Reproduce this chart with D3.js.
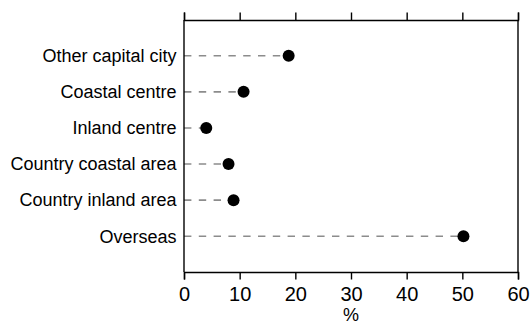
<!DOCTYPE html>
<html>
<head>
<meta charset="utf-8">
<script src="https://cdn.jsdelivr.net/npm/d3@7"></script>
<style>
  html, body { margin: 0; padding: 0; background: #fff; }
  svg { display: block; font-family: "Liberation Sans", Arial, sans-serif; }
</style>
</head>
<body>
<svg id="chart" width="531" height="326"></svg>
<script>
const categories = ["Other capital city", "Coastal centre", "Inland centre", "Country coastal area", "Country inland area", "Overseas"];
const values = [18.8, 10.7, 4.0, 8.0, 8.9, 50.2];
const xTicks = [0, 10, 20, 30, 40, 50, 60];
const xTitle = "%";

(function () {
const svg = d3.select("#chart");
const m = { left: 184, right: 13, top: 20, bottom: 54 };
const W = 531, H = 326;
const x = d3.scaleLinear().domain([0, 60]).range([m.left, W - m.right]);
const y = d3.scalePoint().domain(categories).range([m.top, H - m.bottom]).padding(0.99);

// dashed leader lines
svg.append("g").selectAll("line").data(categories).join("line")
  .attr("x1", x(0)).attr("x2", (d, i) => x(values[i]))
  .attr("y1", d => y(d)).attr("y2", d => y(d))
  .attr("stroke", "#8c8c8c").attr("stroke-width", 1.6)
  .attr("stroke-dasharray", "7.4,7.4");

// dots
svg.append("g").selectAll("circle").data(categories).join("circle")
  .attr("cx", (d, i) => x(values[i])).attr("cy", d => y(d))
  .attr("r", 6).attr("fill", "#000");

// frame: left/right verticals
[0, 60].forEach(v => {
  svg.append("line").attr("x1", x(v)).attr("x2", x(v))
    .attr("y1", m.top).attr("y2", H - m.bottom)
    .attr("stroke", "#000").attr("stroke-width", 1.4);
});

// top axis (ticks only)
const topAxis = svg.append("g").attr("transform", `translate(0,${m.top})`)
  .call(d3.axisTop(x).tickValues(xTicks).tickSize(7.5).tickFormat(""));
topAxis.select(".domain").attr("stroke-width", 1.4);
topAxis.selectAll(".tick line").attr("stroke-width", 1.4);

// bottom axis
const bot = svg.append("g").attr("transform", `translate(0,${H - m.bottom})`)
  .call(d3.axisBottom(x).tickValues(xTicks).tickSize(7.5).tickPadding(7.5).tickFormat(d3.format("d")));
bot.select(".domain").attr("stroke-width", 1.4);
bot.selectAll(".tick line").attr("stroke-width", 1.4);
bot.selectAll(".tick text").attr("font-size", 20).attr("fill", "#000")
  .attr("font-family", "'Liberation Sans', Arial, sans-serif");

// left axis labels
const leftAxis = svg.append("g").attr("transform", `translate(${m.left},0)`)
  .call(d3.axisLeft(y).tickSize(0).tickPadding(7.5));
leftAxis.select(".domain").remove();
leftAxis.selectAll(".tick text").attr("font-size", 18).attr("fill", "#000")
  .attr("font-family", "'Liberation Sans', Arial, sans-serif");

// x title
svg.append("text").attr("x", (x(0) + x(60)) / 2).attr("y", 321)
  .attr("text-anchor", "middle").attr("font-size", 18).attr("fill", "#000")
  .text(xTitle);
})();
</script>
</body>
</html>
